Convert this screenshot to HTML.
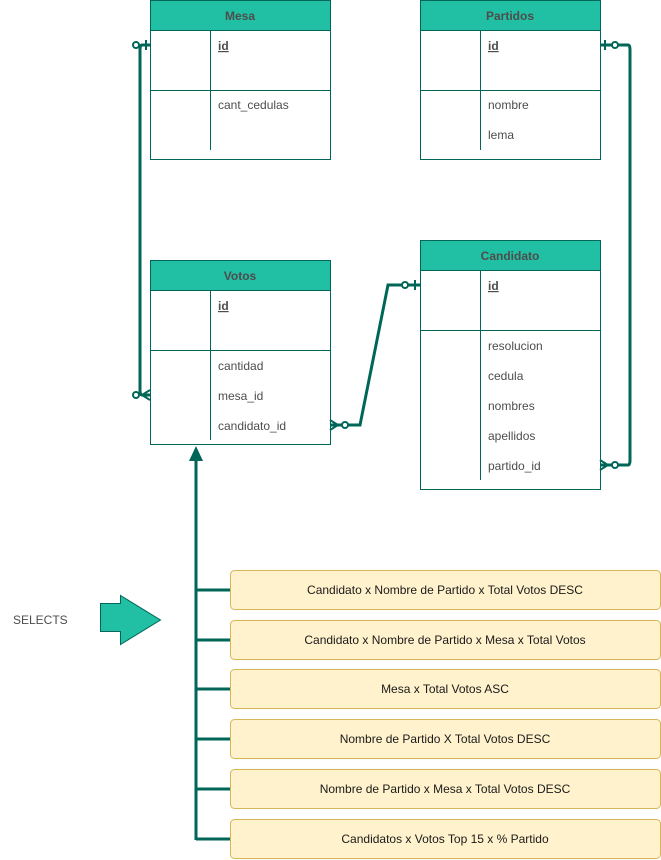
<!DOCTYPE html>
<html><head><style>body{margin:0;background:#fff}svg{display:block}text{font-family:"Liberation Sans",Arial,sans-serif;font-size:12px;fill:#4d4d4d}</style></head><body>
<svg width="661" height="860" xmlns="http://www.w3.org/2000/svg">
<g stroke="#006658" fill="none">
<!-- Mesa -->
<rect x="150.5" y="0.5" width="180" height="159" fill="#fff"/>
<rect x="150.5" y="0.5" width="180" height="30" fill="#21bfa3"/>
<line x1="150" y1="90.5" x2="330" y2="90.5"/><line x1="210.5" y1="30" x2="210.5" y2="150"/>
<!-- Partidos -->
<rect x="420.5" y="0.5" width="180" height="159" fill="#fff"/>
<rect x="420.5" y="0.5" width="180" height="30" fill="#21bfa3"/>
<line x1="420" y1="90.5" x2="600" y2="90.5"/><line x1="480.5" y1="30" x2="480.5" y2="150"/>
<!-- Votos -->
<rect x="150.5" y="260.5" width="180" height="184" fill="#fff"/>
<rect x="150.5" y="260.5" width="180" height="30" fill="#21bfa3"/>
<line x1="150" y1="350.5" x2="330" y2="350.5"/><line x1="210.5" y1="290" x2="210.5" y2="440"/>
<!-- Candidato -->
<rect x="420.5" y="240.5" width="180" height="249" fill="#fff"/>
<rect x="420.5" y="240.5" width="180" height="30" fill="#21bfa3"/>
<line x1="420" y1="330.5" x2="600" y2="330.5"/><line x1="480.5" y1="270" x2="480.5" y2="480"/>
</g>
<g font-weight="bold" text-anchor="middle">
<text x="240" y="20" style="font-weight:bold">Mesa</text>
<text x="510" y="20" style="font-weight:bold">Partidos</text>
<text x="240" y="280" style="font-weight:bold">Votos</text>
<text x="510" y="260" style="font-weight:bold">Candidato</text>
</g>
<text x="218" y="50" style="font-weight:bold;text-decoration:underline">id</text>
<text x="218" y="109">cant_cedulas</text>
<text x="488" y="50" style="font-weight:bold;text-decoration:underline">id</text>
<text x="488" y="109">nombre</text><text x="488" y="139">lema</text>
<text x="218" y="310" style="font-weight:bold;text-decoration:underline">id</text>
<text x="218" y="370">cantidad</text><text x="218" y="400">mesa_id</text><text x="218" y="430">candidato_id</text>
<text x="488" y="290" style="font-weight:bold;text-decoration:underline">id</text>
<text x="488" y="350">resolucion</text><text x="488" y="380">cedula</text><text x="488" y="410">nombres</text><text x="488" y="440">apellidos</text><text x="488" y="470">partido_id</text>
<g stroke="#006658" stroke-width="3" fill="none">
<path d="M150 45 H142 Q140 45 140 50 V390 Q140 395 142 395 H150"/>
<path d="M600 45 H628 Q630 45 630 50 V460 Q630 465 628 465 H600"/>
<path d="M330 425 H360 L388 285 H420"/>
<path d="M196 840 V455"/>
<path d="M196 590H230M196 640H230M196 689H230M196 739H230M196 789H230M196 839H230"/>
</g>
<g stroke="#006658" stroke-width="2" fill="#fff">
<circle cx="136" cy="45" r="3"/><line x1="146" y1="40" x2="146" y2="50"/>
<circle cx="136" cy="395" r="3"/><path d="M150 390 L142 395 L150 400" fill="none"/>
<circle cx="615" cy="45" r="3"/><line x1="605" y1="40" x2="605" y2="50"/>
<circle cx="615" cy="465" r="3"/><path d="M600 460 L608 465 L600 470" fill="none"/>
<circle cx="345" cy="425" r="3"/><path d="M330 420 L338 425 L330 430" fill="none"/>
<circle cx="405" cy="285" r="3"/><line x1="415" y1="280" x2="415" y2="290"/>
</g>
<path d="M189 461 L196 446 L203 461 Z" fill="#006658"/>
<path d="M100.5 603.5 H120.5 V595.5 L160.5 620 L120.5 644.5 V631.5 H100.5 Z" fill="#21bfa3" stroke="#006658"/>
<text x="13" y="624">SELECTS</text>
<g fill="#fff2cc" stroke="#d6b656">
<rect x="230.5" y="570.5" width="430" height="39" rx="4"/>
<rect x="230.5" y="620.5" width="430" height="39" rx="4"/>
<rect x="230.5" y="669.5" width="430" height="39" rx="4"/>
<rect x="230.5" y="719.5" width="430" height="39" rx="4"/>
<rect x="230.5" y="769.5" width="430" height="39" rx="4"/>
<rect x="230.5" y="819.5" width="430" height="39" rx="4"/>
</g>
<g text-anchor="middle" style="fill:#1a1a1a">
<text x="445" y="594" style="fill:#1a1a1a">Candidato x Nombre de Partido x Total Votos DESC</text>
<text x="445" y="644" style="fill:#1a1a1a">Candidato x Nombre de Partido x Mesa x Total Votos</text>
<text x="445" y="693" style="fill:#1a1a1a">Mesa x Total Votos ASC</text>
<text x="445" y="743" style="fill:#1a1a1a">Nombre de Partido X Total Votos DESC</text>
<text x="445" y="793" style="fill:#1a1a1a">Nombre de Partido x Mesa x Total Votos DESC</text>
<text x="445" y="843" style="fill:#1a1a1a">Candidatos x Votos Top 15 x % Partido</text>
</g>
</svg>
</body></html>
